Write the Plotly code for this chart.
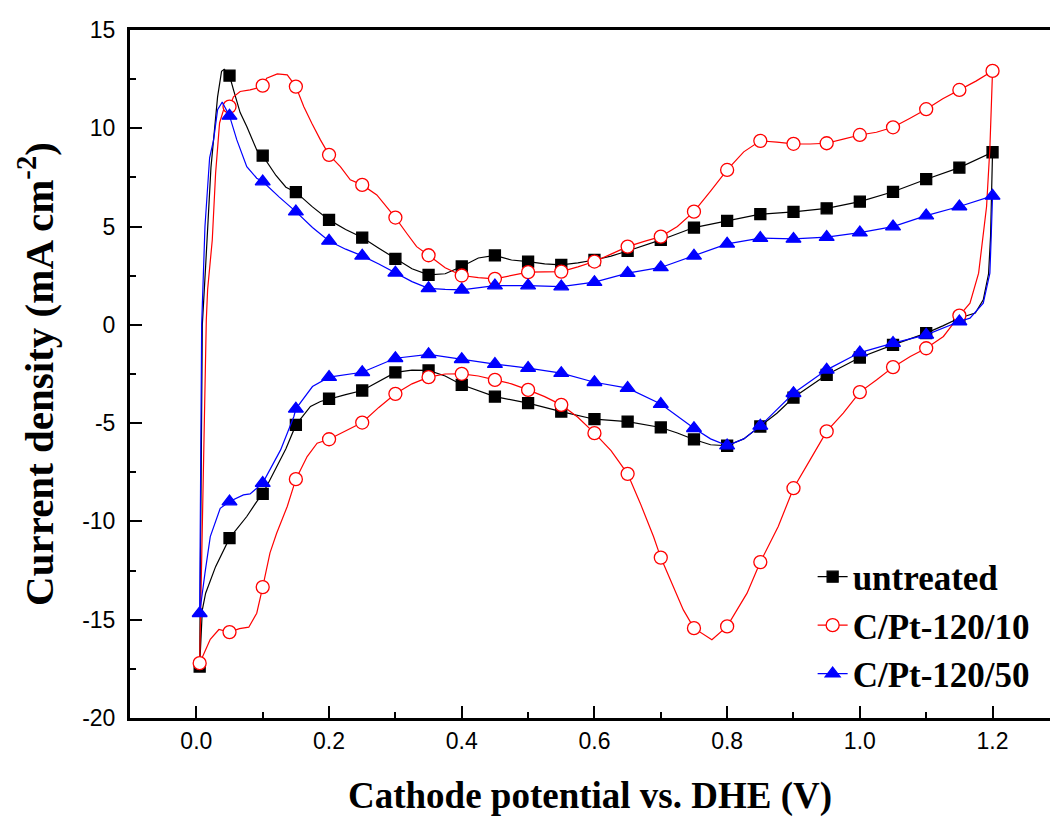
import plotly.graph_objects as go

# ---- marker positions (V) : anodic sweep 0.05 -> 1.2, cathodic sweep 1.15 -> 0.0
marker_v = [0.05, 0.10, 0.15, 0.20, 0.25, 0.30, 0.35, 0.40, 0.45, 0.50, 0.55, 0.60,
            0.65, 0.70, 0.75, 0.80, 0.85, 0.90, 0.95, 1.00, 1.05, 1.10, 1.15, 1.20,
            1.15, 1.10, 1.05, 1.00, 0.95, 0.90, 0.85, 0.80, 0.75, 0.70, 0.65, 0.60,
            0.55, 0.50, 0.45, 0.40, 0.35, 0.30, 0.25, 0.20, 0.15, 0.10, 0.05, 0.005]

untreated_j = [12.68, 8.61, 6.75, 5.34, 4.44, 3.36, 2.54, 2.97, 3.53, 3.22, 3.05, 3.30,
               3.76, 4.32, 4.95, 5.29, 5.63, 5.75, 5.93, 6.27, 6.77, 7.41, 8.00, 8.78,
               0.35, -0.42, -1.02, -1.66, -2.54, -3.70, -5.17, -6.15, -5.83, -5.22, -4.92, -4.80,
               -4.41, -3.98, -3.65, -3.05, -2.32, -2.42, -3.34, -3.76, -5.09, -8.60, -10.85, -17.38]

pt10_j = [11.10, 12.17, 12.12, 8.65, 7.12, 5.46, 3.54, 2.51, 2.34, 2.68, 2.71, 3.22,
          3.98, 4.49, 5.76, 7.88, 9.36, 9.21, 9.24, 9.66, 10.05, 10.97, 11.95, 12.92,
          0.47, -1.19, -2.15, -3.42, -5.42, -8.31, -12.07, -15.34, -15.43, -11.84, -7.58, -5.51,
          -4.07, -3.31, -2.80, -2.49, -2.66, -3.51, -4.97, -5.82, -7.85, -13.34, -15.63, -17.21]

pt50_j = [10.63, 7.29, 5.76, 4.27, 3.51, 2.65, 1.86, 1.78, 2.00, 2.00, 1.95, 2.17,
          2.63, 2.92, 3.51, 4.12, 4.41, 4.37, 4.46, 4.69, 5.00, 5.56, 6.02, 6.56,
          0.17, -0.51, -0.93, -1.41, -2.29, -3.48, -5.14, -6.14, -5.26, -4.03, -3.22, -2.92,
          -2.46, -2.20, -2.00, -1.75, -1.50, -1.70, -2.41, -2.66, -4.27, -8.05, -8.99, -14.67]

# ---- full recorded voltammogram paths (denser than the markers)
untreated_path_v = [0.005, 0.007, 0.009, 0.014, 0.022, 0.032, 0.038, 0.042, 0.05, 0.056, 0.066,
                    0.076, 0.091, 0.10, 0.12, 0.135, 0.15, 0.175, 0.20, 0.225, 0.25, 0.275, 0.30,
                    0.325, 0.35, 0.375, 0.40, 0.425, 0.45, 0.475, 0.50, 0.525, 0.55, 0.575, 0.60,
                    0.625, 0.65, 0.675, 0.70, 0.75, 0.80, 0.85, 0.90, 0.95, 1.00, 1.05, 1.10, 1.15,
                    1.20, 1.197, 1.194, 1.186, 1.174, 1.15, 1.125, 1.10, 1.05, 1.00, 0.95, 0.90,
                    0.875, 0.85, 0.825, 0.80, 0.775, 0.75, 0.725, 0.70, 0.65, 0.60, 0.55, 0.50,
                    0.45, 0.40, 0.375, 0.35, 0.325, 0.30, 0.275, 0.25, 0.225, 0.20, 0.187, 0.172,
                    0.15, 0.135, 0.12, 0.10, 0.091, 0.076, 0.05, 0.029, 0.014, 0.009, 0.005]
untreated_path_j = [-17.38, -8.0, 0.0, 3.0, 8.0, 11.6, 12.9, 13.0, 12.68, 11.95, 10.8,
                    10.09, 8.9, 8.61, 7.6, 7.0, 6.75, 6.0, 5.34, 4.85, 4.44, 3.9, 3.36,
                    2.85, 2.54, 2.6, 2.97, 3.4, 3.53, 3.3, 3.22, 3.1, 3.05, 3.15, 3.30,
                    3.5, 3.76, 4.05, 4.32, 4.95, 5.29, 5.63, 5.75, 5.93, 6.27, 6.77, 7.41, 8.00,
                    8.78, 4.5, 2.6, 1.27, 0.6, 0.35, -0.05, -0.42, -1.02, -1.66, -2.54, -3.70,
                    -4.5, -5.17, -5.8, -6.15, -6.1, -5.83, -5.5, -5.22, -4.92, -4.80, -4.41, -3.98,
                    -3.65, -3.05, -2.6, -2.32, -2.3, -2.42, -2.9, -3.34, -3.55, -3.76, -3.9, -4.15,
                    -5.09, -6.3, -7.3, -8.60, -8.99, -9.75, -10.85, -12.3, -13.65, -14.5, -17.38]

pt10_path_v = [0.005, 0.010, 0.015, 0.017, 0.024, 0.029, 0.035, 0.041, 0.05, 0.056, 0.066, 0.081,
               0.091, 0.10, 0.106, 0.122, 0.137, 0.15, 0.162, 0.174, 0.187, 0.20, 0.217, 0.232,
               0.25, 0.272, 0.287, 0.30, 0.317, 0.332, 0.35, 0.375, 0.40, 0.425, 0.45, 0.475,
               0.50, 0.525, 0.55, 0.575, 0.60, 0.625, 0.65, 0.675, 0.70, 0.725, 0.75, 0.775,
               0.80, 0.825, 0.85, 0.875, 0.90, 0.925, 0.95, 0.975, 1.00, 1.025, 1.05, 1.075,
               1.10, 1.125, 1.15, 1.175, 1.20, 1.196, 1.191, 1.179, 1.166, 1.15, 1.126, 1.10,
               1.076, 1.05, 1.025, 1.00, 0.975, 0.95, 0.925, 0.90, 0.877, 0.85, 0.83, 0.80,
               0.777, 0.75, 0.734, 0.719, 0.70, 0.689, 0.669, 0.65, 0.625, 0.60, 0.575, 0.55,
               0.525, 0.50, 0.475, 0.45, 0.425, 0.40, 0.375, 0.35, 0.325, 0.30, 0.275, 0.25,
               0.225, 0.20, 0.182, 0.167, 0.15, 0.137, 0.121, 0.111, 0.10, 0.091, 0.079, 0.065,
               0.05, 0.034, 0.021, 0.0116, 0.005]
pt10_path_j = [-17.21, -8.0, 0.25, 1.8, 4.32, 7.7, 10.27, 10.94, 11.10, 11.6, 11.87, 11.95,
               12.04, 12.17, 12.55, 12.77, 12.72, 12.12, 11.1, 10.26, 9.41, 8.65, 8.05, 7.38,
               7.12, 6.61, 6.02, 5.46, 4.66, 3.98, 3.54, 2.9, 2.51, 2.4, 2.34, 2.5,
               2.68, 2.7, 2.71, 2.95, 3.22, 3.6, 3.98, 4.25, 4.49, 5.0, 5.76, 6.8,
               7.88, 8.8, 9.36, 9.3, 9.21, 9.2, 9.24, 9.45, 9.66, 9.8, 10.05, 10.5,
               10.97, 11.5, 11.95, 12.4, 12.92, 9.0, 6.02, 2.63, 1.1, 0.47, -0.59, -1.19,
               -1.61, -2.15, -2.8, -3.42, -4.49, -5.42, -6.87, -8.31, -10.26, -12.07, -13.65, -15.34,
               -16.02, -15.43, -14.5, -13.31, -11.84, -10.77, -9.07, -7.58, -6.4, -5.51, -4.7, -4.07,
               -3.65, -3.31, -3.0, -2.80, -2.6, -2.49, -2.5, -2.66, -3.0, -3.51, -4.2, -4.97,
               -5.4, -5.82, -6.02, -6.7, -7.85, -9.24, -10.6, -11.6, -13.34, -14.67, -15.38, -15.45,
               -15.63, -15.5, -16.0, -16.7, -17.21]

pt50_path_v = [0.005, 0.006, 0.008, 0.013, 0.02, 0.026, 0.032, 0.039, 0.046, 0.05, 0.061, 0.076,
               0.091, 0.10, 0.125, 0.15, 0.175, 0.20, 0.225, 0.25, 0.275, 0.30, 0.325, 0.35,
               0.375, 0.40, 0.45, 0.50, 0.55, 0.60, 0.65, 0.70, 0.75, 0.80, 0.85, 0.90, 0.95,
               1.00, 1.05, 1.10, 1.15, 1.20, 1.198, 1.196, 1.186, 1.166, 1.15, 1.10, 1.05, 1.00,
               0.95, 0.90, 0.85, 0.825, 0.80, 0.775, 0.75, 0.70, 0.65, 0.60, 0.55, 0.50, 0.45,
               0.40, 0.35, 0.30, 0.25, 0.20, 0.175, 0.15, 0.147, 0.127, 0.10, 0.091, 0.081,
               0.071, 0.05, 0.036, 0.021, 0.013, 0.0095, 0.005]
pt50_path_j = [-14.67, -8.0, 0.0, 5.0, 8.5, 9.41, 10.94, 11.33, 10.85, 10.63, 9.41, 8.05,
               7.46, 7.29, 6.5, 5.76, 4.95, 4.27, 3.85, 3.51, 3.1, 2.65, 2.2, 1.86,
               1.8, 1.78, 2.00, 2.00, 1.95, 2.17, 2.63, 2.92, 3.51, 4.12, 4.41, 4.37, 4.46,
               4.69, 5.00, 5.56, 6.02, 6.56, 4.5, 2.63, 1.1, 0.34, 0.17, -0.51, -0.93, -1.41,
               -2.29, -3.48, -5.14, -5.8, -6.14, -5.8, -5.26, -4.03, -3.22, -2.92, -2.46, -2.20, -2.00,
               -1.75, -1.50, -1.70, -2.41, -2.66, -3.14, -4.27, -4.66, -6.36, -8.05, -8.31, -8.6,
               -8.65, -8.99, -9.33, -10.77, -12.63, -13.48, -14.67]

# ---- axis ticks
x_tick_vals = [0.0, 0.2, 0.4, 0.6, 0.8, 1.0, 1.2]
x_tick_text = ["0.0", "0.2", "0.4", "0.6", "0.8", "1.0", "1.2"]
y_tick_vals = [-20, -15, -10, -5, 0, 5, 10, 15]
y_tick_text = ["-20", "-15", "-10", "-5", "0", "5", "10", "15"]

series_names = ["untreated", "C/Pt-120/10", "C/Pt-120/50"]
series_colors = ["#000000", "#FF0000", "#0000FF"]
series_symbols = ["square", "circle", "triangle-up"]
series_fills = ["#000000", "#FFFFFF", "#0000FF"]
series_sizes = [11, 13, 13]

paths = [(untreated_path_v, untreated_path_j), (pt10_path_v, pt10_path_j), (pt50_path_v, pt50_path_j)]
marks = [untreated_j, pt10_j, pt50_j]

fig = go.Figure()

for name, color, sym, fill, size, (pv, pj), mj in zip(series_names, series_colors, series_symbols,
                                                     series_fills, series_sizes, paths, marks):
    fig.add_trace(go.Scatter(x=pv, y=pj, mode="lines", line=dict(color=color, width=1.2),
                             showlegend=False, legendgroup=name, hoverinfo="skip"))
    marker = dict(symbol=sym, size=size, color=fill, line=dict(color=color, width=1.3))
    fig.add_trace(go.Scatter(x=marker_v, y=mj, mode="markers", marker=marker,
                             showlegend=False, legendgroup=name))
    # legend entry: line with marker
    fig.add_trace(go.Scatter(x=[None], y=[None], mode="lines+markers", name=f"<b>{name}</b>",
                             line=dict(color=color, width=1.2), marker=marker, legendgroup=name))

fig.update_layout(
    width=1050, height=825,
    margin=dict(l=130, r=0, t=30, b=107),
    paper_bgcolor="white", plot_bgcolor="white",
    font=dict(family="Liberation Sans, Arial, sans-serif", color="black"),
    legend=dict(x=0.742, y=0.248, xanchor="left", yanchor="top",
                font=dict(family="Liberation Serif, Times New Roman, serif", size=35, color="black"),
                bgcolor="rgba(0,0,0,0)", tracegroupgap=0, itemwidth=30),
)

fig.update_xaxes(
    range=[-0.1, 1.2866], tickmode="array", tickvals=x_tick_vals, ticktext=x_tick_text,
    showgrid=False, zeroline=False, showline=True, linecolor="black", linewidth=3, mirror=True,
    ticks="inside", ticklen=12, tickwidth=2, tickcolor="black",
    tickfont=dict(size=23, family="Liberation Sans, Arial, sans-serif"),
    minor=dict(dtick=0.1, tick0=0, ticks="inside", ticklen=6, tickwidth=2, tickcolor="black", showgrid=False),
    title=dict(text="<b>Cathode potential vs. DHE (V)</b>", standoff=30,
               font=dict(family="Liberation Serif, Times New Roman, serif", size=37)),
)
fig.update_yaxes(
    range=[-20, 15], tickmode="array", tickvals=y_tick_vals, ticktext=y_tick_text,
    showgrid=False, zeroline=False, showline=True, linecolor="black", linewidth=3, mirror=False,
    ticks="inside", ticklen=12, tickwidth=2, tickcolor="black", ticklabelstandoff=7,
    tickfont=dict(size=23, family="Liberation Sans, Arial, sans-serif"),
    minor=dict(dtick=2.5, tick0=0, ticks="inside", ticklen=6, tickwidth=2, tickcolor="black", showgrid=False),
    title=dict(text="<b>Current density (mA cm<sup>-2</sup>)</b>", standoff=16,
               font=dict(family="Liberation Serif, Times New Roman, serif", size=41)),
)

fig.write_html("out.html")
